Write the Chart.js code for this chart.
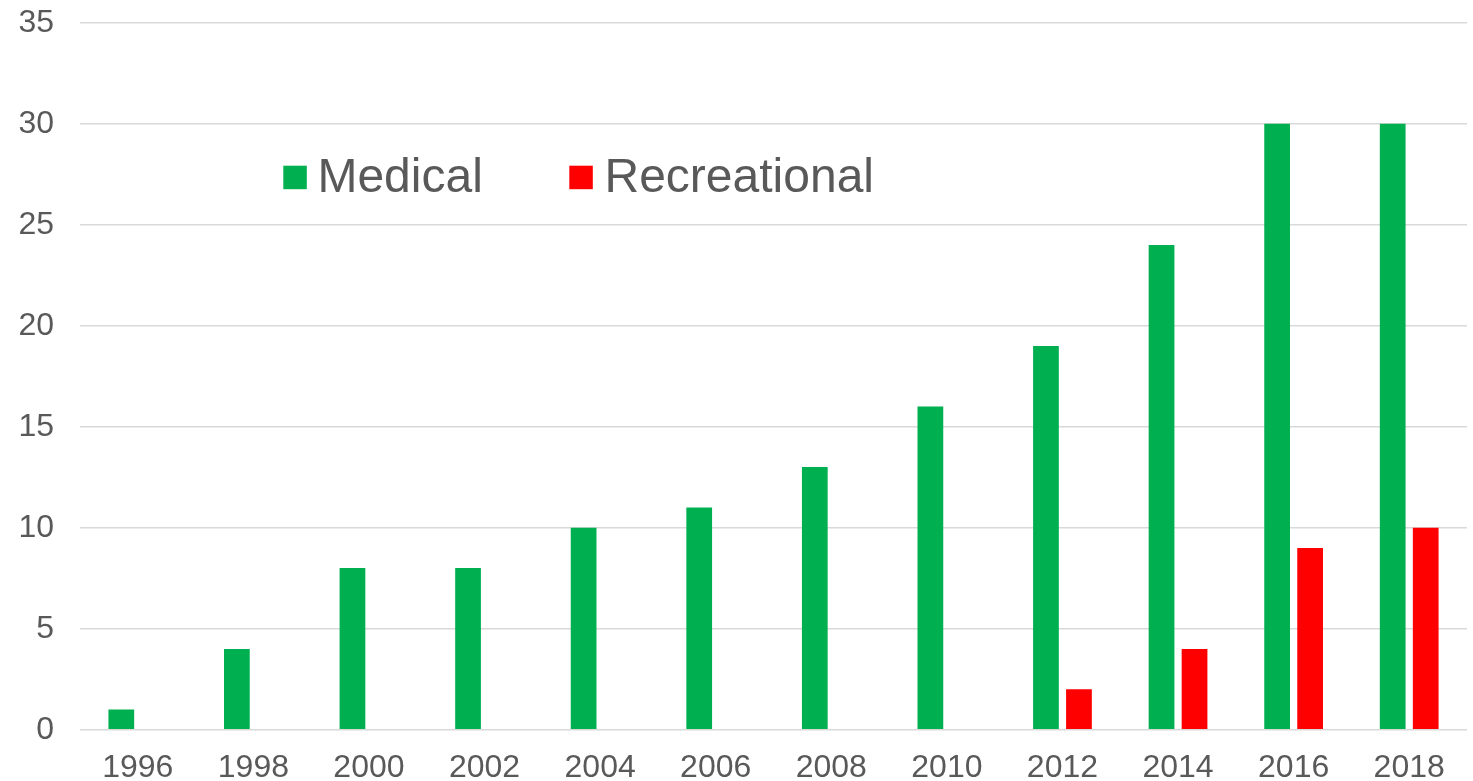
<!DOCTYPE html>
<html>
<head>
<meta charset="utf-8">
<script src="https://cdn.jsdelivr.net/npm/chart.js@4/dist/chart.umd.min.js"></script>
<style>
  html, body { margin: 0; padding: 0; background: #ffffff; }
  #wrap { position: relative; width: 1473px; height: 781px; }
</style>
</head>
<body>
<div id="wrap"><canvas id="c"></canvas></div>
<script>
const categories = ['1996','1998','2000','2002','2004','2006','2008','2010','2012','2014','2016','2018'];
const medical = [1, 4, 8, 8, 10, 11, 13, 16, 19, 24, 30, 30];
const recreational = [0, 0, 0, 0, 0, 0, 0, 0, 2, 4, 9, 10];
const seriesNames = ['Medical', 'Recreational'];
const seriesColors = ['#00B050', '#FF0000'];
const yTicks = [0, 5, 10, 15, 20, 25, 30, 35];

const FONT = '"Liberation Sans", Arial, Helvetica, sans-serif';
const TEXT = '#595959';

const insideLegend = {
  id: 'insideLegend',
  afterDraw(chart) {
    const ctx = chart.ctx;
    const items = [
      { sq: 283.3, tx: 317.4 },
      { sq: 569.3, tx: 604.5 }
    ];
    ctx.save();
    ctx.font = '48px ' + FONT;
    ctx.textBaseline = 'alphabetic';
    ctx.textAlign = 'left';
    chart.data.datasets.forEach((ds, i) => {
      const it = items[i];
      ctx.fillStyle = ds.backgroundColor;
      ctx.fillRect(it.sq, 165.7, 23.5, 23.5);
      ctx.fillStyle = TEXT;
      ctx.fillText(ds.label, it.tx, 192.3);
    });
    ctx.restore();
  }
};

new Chart(document.getElementById('c'), {
  type: 'bar',
  data: {
    labels: categories,
    datasets: [
      { label: seriesNames[0], data: medical, backgroundColor: seriesColors[0], borderWidth: 0,
        categoryPercentage: 0.571, barPercentage: 0.78 },
      { label: seriesNames[1], data: recreational, backgroundColor: seriesColors[1], borderWidth: 0,
        categoryPercentage: 0.571, barPercentage: 0.78 }
    ]
  },
  options: {
    responsive: true,
    maintainAspectRatio: false,
    animation: false,
    devicePixelRatio: 1,
    layout: { padding: { left: 0, right: 6, top: 22.7, bottom: 0 } },
    plugins: {
      legend: { display: false },
      tooltip: { enabled: false },
      title: { display: false }
    },
    scales: {
      x: {
        grid: { display: false, drawTicks: false },
        border: { display: false },
        ticks: {
          color: TEXT,
          font: { family: FONT, size: 32 },
          padding: 19,
          maxRotation: 0,
          autoSkip: false
        },
        afterFit(scale) {
          scale.height = 51.3;
          scale.paddingLeft = 0; scale.paddingRight = 0;
          scale.paddingTop = 0; scale.paddingBottom = 0;
        }
      },
      y: {
        min: 0,
        max: 35,
        grid: { color: '#D9D9D9', lineWidth: 1.5, drawTicks: false },
        border: { display: false },
        afterBuildTicks(scale) { scale.ticks = yTicks.map(v => ({ value: v })); },
        ticks: {
          color: TEXT,
          font: { family: FONT, size: 32 },
          padding: 26
        },
        afterFit(scale) {
          scale.width = 80;
          scale.paddingTop = 0; scale.paddingBottom = 0;
          scale.paddingLeft = 0; scale.paddingRight = 0;
        }
      }
    }
  },
  plugins: [insideLegend]
});
</script>
</body>
</html>
